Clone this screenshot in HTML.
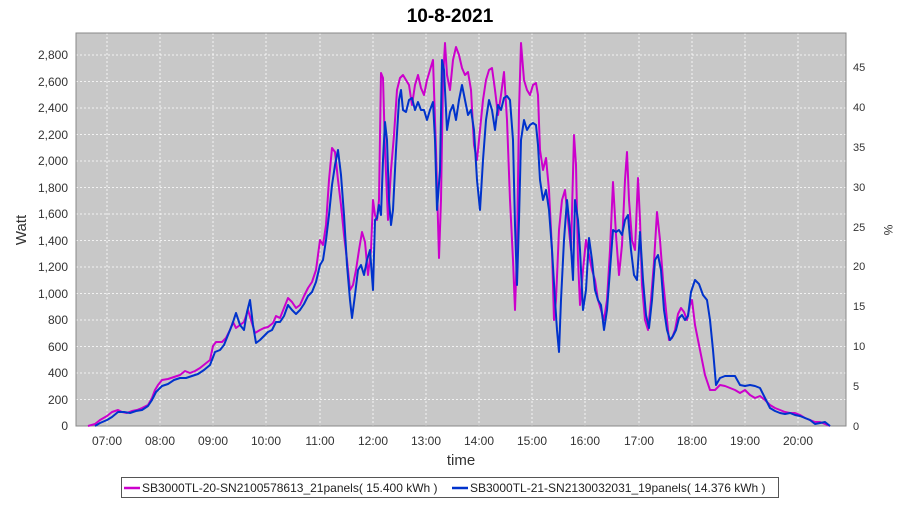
<!DOCTYPE html>
<html><head><meta charset="utf-8"><style>
body{margin:0;background:#fff;width:900px;height:500px;overflow:hidden;font-family:"Liberation Sans",sans-serif}
</style></head><body>
<svg width="900" height="500" xmlns="http://www.w3.org/2000/svg" font-family="Liberation Sans, sans-serif">
<rect width="900" height="500" fill="#fff"/>
<text x="450" y="22" text-anchor="middle" font-size="19" font-weight="bold">10-8-2021</text>
<rect x="76" y="33" width="770" height="393" fill="#c8c8c8"/>
<g stroke="#fff" stroke-width="0.8" stroke-dasharray="2,2">
<line x1="76" x2="846" y1="399.5" y2="399.5"/><line x1="76" x2="846" y1="373" y2="373"/><line x1="76" x2="846" y1="346.5" y2="346.5"/><line x1="76" x2="846" y1="320" y2="320"/><line x1="76" x2="846" y1="293.5" y2="293.5"/><line x1="76" x2="846" y1="267" y2="267"/><line x1="76" x2="846" y1="240.5" y2="240.5"/><line x1="76" x2="846" y1="214" y2="214"/><line x1="76" x2="846" y1="187.5" y2="187.5"/><line x1="76" x2="846" y1="161" y2="161"/><line x1="76" x2="846" y1="134.5" y2="134.5"/><line x1="76" x2="846" y1="108" y2="108"/><line x1="76" x2="846" y1="81.5" y2="81.5"/><line x1="76" x2="846" y1="55" y2="55"/>
<line y1="33" y2="426" x1="107" x2="107"/><line y1="33" y2="426" x1="160" x2="160"/><line y1="33" y2="426" x1="213" x2="213"/><line y1="33" y2="426" x1="266" x2="266"/><line y1="33" y2="426" x1="320" x2="320"/><line y1="33" y2="426" x1="373" x2="373"/><line y1="33" y2="426" x1="426" x2="426"/><line y1="33" y2="426" x1="479" x2="479"/><line y1="33" y2="426" x1="532" x2="532"/><line y1="33" y2="426" x1="585" x2="585"/><line y1="33" y2="426" x1="639" x2="639"/><line y1="33" y2="426" x1="692" x2="692"/><line y1="33" y2="426" x1="745" x2="745"/><line y1="33" y2="426" x1="798" x2="798"/>
</g>
<rect x="76" y="33" width="770" height="393" fill="none" stroke="#888" stroke-width="1"/>
<g font-size="12" fill="#333" text-anchor="end">
<text x="68" y="430">0</text><text x="68" y="404">200</text><text x="68" y="377">400</text><text x="68" y="351">600</text><text x="68" y="324">800</text><text x="68" y="298">1,000</text><text x="68" y="271">1,200</text><text x="68" y="245">1,400</text><text x="68" y="218">1,600</text><text x="68" y="192">1,800</text><text x="68" y="165">2,000</text><text x="68" y="139">2,200</text><text x="68" y="112">2,400</text><text x="68" y="86">2,600</text><text x="68" y="59">2,800</text>
</g>
<g font-size="11" fill="#333">
<text x="853" y="430">0</text><text x="853" y="390">5</text><text x="853" y="350">10</text><text x="853" y="310">15</text><text x="853" y="270">20</text><text x="853" y="231">25</text><text x="853" y="191">30</text><text x="853" y="151">35</text><text x="853" y="111">40</text><text x="853" y="71">45</text>
</g>
<g font-size="12" fill="#333" text-anchor="middle">
<text x="107" y="445">07:00</text><text x="160" y="445">08:00</text><text x="213" y="445">09:00</text><text x="266" y="445">10:00</text><text x="320" y="445">11:00</text><text x="373" y="445">12:00</text><text x="426" y="445">13:00</text><text x="479" y="445">14:00</text><text x="532" y="445">15:00</text><text x="585" y="445">16:00</text><text x="639" y="445">17:00</text><text x="692" y="445">18:00</text><text x="745" y="445">19:00</text><text x="798" y="445">20:00</text>
</g>
<text x="461" y="465" font-size="15" text-anchor="middle" fill="#333">time</text>
<text transform="translate(26,230) rotate(-90)" font-size="15" text-anchor="middle" fill="#333">Watt</text>
<text transform="translate(884,230) rotate(90)" font-size="12" text-anchor="middle" fill="#333">%</text>
<polyline fill="none" stroke="#cc00cc" stroke-width="2" stroke-linejoin="round" points="88,426 95,424 100,420 107,416 112,412 118,410 122,412 127,413 132,411 137,410 142,408 148,405 152,398 155,390 158,385 162,380 168,379 174,377 180,375 185,371 190,373 195,371 200,368 205,364 210,360 213,346 216,342 222,342 226,338 230,330 233,322 236,328 240,325 244,322 248,310 251,320 255,333 260,330 264,328 268,327 273,323 276,316 280,318 284,308 288,298 292,302 296,308 300,305 304,296 308,288 312,282 316,270 320,240 323,245 326,225 329,180 332,148 335,152 338,180 341,205 344,235 347,260 350,290 353,285 356,270 359,250 362,232 365,242 368,275 371,250 373,200 375,215 377,220 379,200 381,73 383,78 385,150 388,220 391,170 394,135 397,90 400,78 403,75 406,80 409,85 412,105 415,85 418,75 421,88 424,95 427,80 430,70 433,60 436,150 439,258 441,200 443,80 445,43 447,75 450,90 453,60 456,47 459,55 462,68 465,75 468,72 471,90 474,145 477,160 480,130 483,100 486,80 489,70 492,68 495,90 498,115 501,95 504,72 507,120 510,200 513,260 515,310 517,250 519,110 521,43 524,80 527,90 530,95 533,85 536,83 538,95 540,150 543,170 546,158 549,190 552,250 554,320 556,300 559,230 562,200 565,190 568,220 571,250 574,135 576,165 578,260 580,305 583,270 586,240 589,255 592,270 595,280 598,300 601,310 604,320 607,300 610,250 613,182 616,235 619,275 622,245 625,180 627,152 629,200 632,240 635,250 638,178 640,220 642,285 645,320 648,330 651,300 654,262 657,212 660,240 663,280 666,310 669,340 672,338 675,330 678,314 681,308 684,312 687,320 690,305 692,300 695,325 700,350 705,375 710,390 715,390 720,385 725,386 730,388 735,390 740,393 745,390 750,395 755,398 760,396 765,400 770,405 775,408 780,410 785,412 790,413 795,413 800,415 805,418 810,420 815,422 820,422 825,424 830,426"/>
<polyline fill="none" stroke="#0033cc" stroke-width="2" stroke-linejoin="round" points="95,426 100,423 107,420 112,417 118,412 124,412 130,413 136,411 142,410 148,406 152,400 156,392 162,386 168,384 174,380 180,378 186,378 192,376 198,374 204,370 210,365 215,352 220,350 224,345 228,335 232,325 236,313 240,325 244,330 247,312 250,300 253,325 256,343 260,340 264,336 268,332 272,330 276,322 280,322 284,316 288,305 292,310 296,314 300,310 304,304 308,296 312,292 316,282 320,265 323,260 326,240 329,215 332,185 335,165 338,150 341,175 344,215 347,265 350,300 352,318 355,295 358,270 361,265 364,275 367,260 370,250 373,290 375,220 377,218 379,205 381,215 383,160 385,122 387,140 389,200 391,225 393,210 396,150 399,100 401,90 403,110 406,112 409,100 412,98 415,110 418,102 421,110 424,110 427,120 430,110 433,102 435,140 437,210 440,170 442,60 444,70 447,130 450,112 453,105 456,120 459,100 462,85 465,100 468,115 471,110 474,130 477,180 480,210 483,160 486,120 489,100 492,110 495,130 498,105 501,110 504,98 507,96 510,100 513,140 515,225 517,285 519,220 521,140 524,120 527,130 530,125 533,123 536,125 538,145 540,180 543,200 546,190 549,210 552,250 555,300 557,330 559,352 561,300 564,240 567,200 570,230 573,280 575,200 578,220 580,250 583,310 586,290 589,238 592,260 595,290 598,300 601,305 604,330 607,310 610,270 613,230 616,232 619,230 622,235 625,220 628,215 631,250 634,275 637,280 640,232 643,280 646,315 649,328 652,300 655,260 658,255 661,270 664,310 667,330 670,340 673,336 676,330 679,318 682,315 685,320 688,316 691,292 695,280 699,284 703,295 707,300 710,320 713,350 716,385 720,378 725,376 730,376 735,376 740,385 745,386 750,385 755,386 760,388 765,398 770,408 775,411 780,413 785,414 790,413 795,415 800,416 805,418 810,420 815,424 820,423 825,422 830,426"/>
<rect x="121.5" y="477.5" width="657" height="20" fill="#fff" stroke="#555"/>
<line x1="124" x2="140" y1="488" y2="488" stroke="#cc00cc" stroke-width="2.5"/>
<text x="142" y="492" font-size="12" fill="#222">SB3000TL-20-SN2100578613_21panels( 15.400 kWh )</text>
<line x1="452" x2="468" y1="488" y2="488" stroke="#0033cc" stroke-width="2.5"/>
<text x="470" y="492" font-size="12" fill="#222">SB3000TL-21-SN2130032031_19panels( 14.376 kWh )</text>
</svg>
</body></html>
